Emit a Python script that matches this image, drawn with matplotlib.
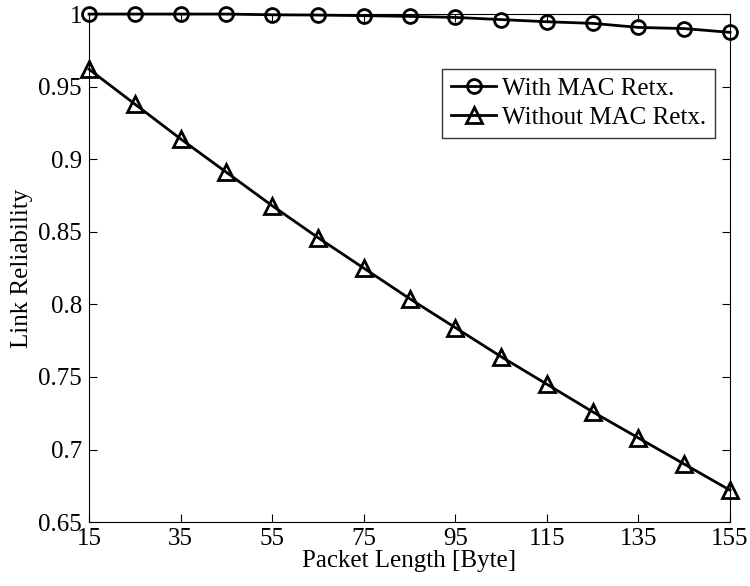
import matplotlib
matplotlib.use("Agg")
import matplotlib.pyplot as plt

plt.rcParams['font.family'] = ['Liberation Serif', 'DejaVu Serif']

packet_length = [15, 25, 35, 45, 55, 65, 75, 85, 95, 105, 115, 125, 135, 145, 155]
with_retx = [1.0, 1.0, 1.0, 1.0, 0.9995, 0.9993, 0.9989, 0.9984, 0.9977, 0.9962,
             0.9947, 0.9936, 0.9908, 0.9900, 0.9874]
without_retx = [0.962, 0.938, 0.914, 0.891, 0.868, 0.846, 0.825, 0.804, 0.784, 0.764,
                0.745, 0.726, 0.708, 0.690, 0.672]
xticks = [15, 35, 55, 75, 95, 115, 135, 155]
yticks = [0.65, 0.7, 0.75, 0.8, 0.85, 0.9, 0.95, 1.0]
yticklabels = ['0.65', '0.7', '0.75', '0.8', '0.85', '0.9', '0.95', '1']

fig = plt.figure(figsize=(7.5, 5.86), dpi=100)
ax = fig.add_axes([0.1187, 0.109, 0.8546, 0.867])

ax.plot(packet_length, with_retx, color='black', linewidth=2, marker='o',
        markersize=10, markerfacecolor='none', markeredgewidth=2,
        label='With MAC Retx.', clip_on=False, zorder=3)
ax.plot(packet_length, without_retx, color='black', linewidth=2, marker='^',
        markersize=11, markerfacecolor='none', markeredgewidth=2,
        label='Without MAC Retx.', clip_on=False, zorder=3)

ax.set_xlim(15, 155)
ax.set_ylim(0.65, 1.0)
ax.set_xticks(xticks)
ax.set_yticks(yticks)
ax.set_yticklabels(yticklabels)
ax.tick_params(direction='in', top=True, right=True, labelsize=18, length=6)
ax.tick_params(axis='x', pad=4)
ax.tick_params(axis='y', pad=5)
ax.set_xlabel('Packet Length [Byte]', fontsize=18, labelpad=0)
ax.set_ylabel('Link Reliability', fontsize=18, labelpad=4)

leg = ax.legend(loc='upper right', bbox_to_anchor=(0.977, 0.892), fontsize=18,
                frameon=True, fancybox=False, edgecolor='black',
                handlelength=1.8, handletextpad=0.25, borderpad=0.35, labelspacing=0.25,
                borderaxespad=0)
leg.get_frame().set_linewidth(1.0)

fig.savefig('out.png', dpi=100)
